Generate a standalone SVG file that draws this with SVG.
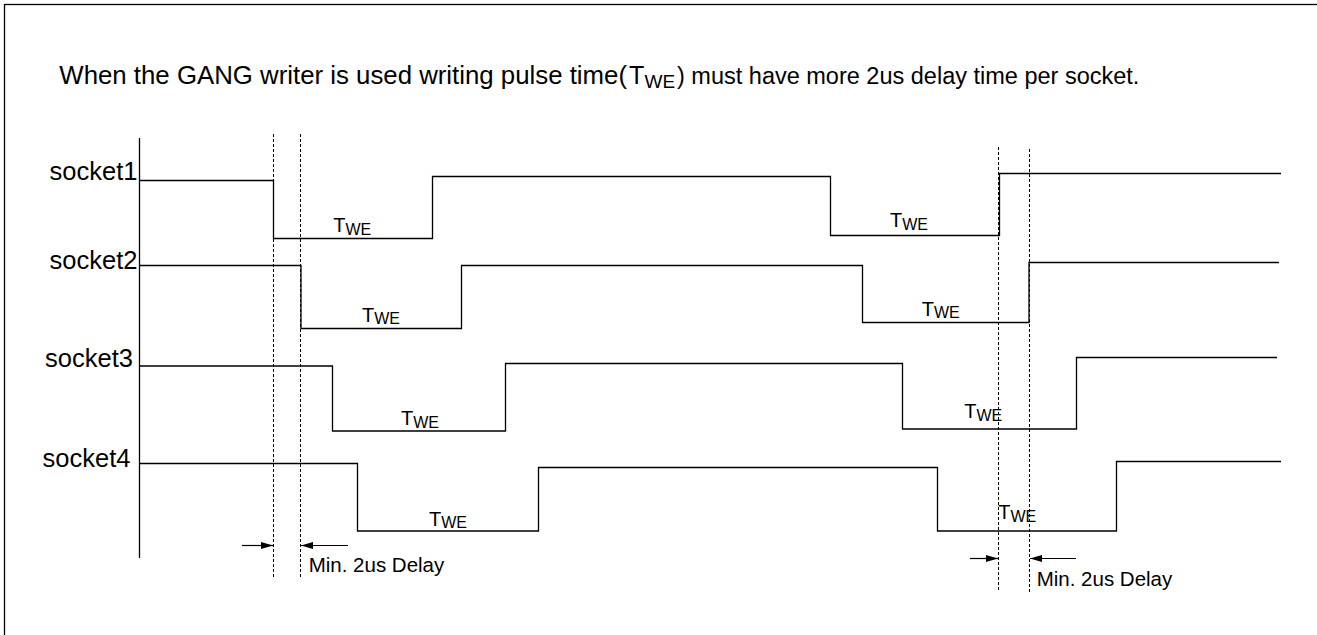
<svg xmlns="http://www.w3.org/2000/svg" width="1317" height="635" viewBox="0 0 1317 635">
<style>
text{font-family:"Liberation Sans",Arial,sans-serif;fill:#000}
.title{font-size:25px}
.lbl{font-size:25.5px;text-anchor:end}
.tw{font-size:20px}
.sub{font-size:16px}
.min{font-size:20.5px}
.sig{fill:none;stroke:#000;stroke-width:1.3}
.dash{fill:none;stroke:#000;stroke-width:1;stroke-dasharray:3,2}
.arr{fill:none;stroke:#000;stroke-width:1.2}
</style>
<defs>
<marker id="ah" markerUnits="userSpaceOnUse" markerWidth="13" markerHeight="8" refX="12" refY="3.5" orient="auto">
<path d="M0,0 L12,3.5 L0,7 z" fill="#000"/>
</marker>
</defs>
<rect width="1317" height="635" fill="#fff"/>
<rect x="4.5" y="4.5" width="1330" height="650" fill="none" stroke="#000" stroke-width="1.3"/>
<text class="title" x="59.3" y="84"><tspan font-size="25.8">When the GANG writer is used writing pulse time(</tspan><tspan x="629">T</tspan><tspan font-size="19" x="644.5" dy="4">WE</tspan><tspan font-size="23.5" x="677" dy="-4">) must have more 2us delay time per socket.</tspan></text>
<line x1="139.5" y1="138" x2="139.5" y2="558" class="sig"/>
<g id="socket1">
<text class="lbl" x="137.5" y="180">socket1</text>
<path class="sig" d="M139.5,180.5 H273.5 V238.5 H432.5 V176.5 H830.5 V235.5 H999.5 V173.5 H1281"/>
<text class="tw" x="333.3" y="232">T<tspan class="sub" dy="2.5">WE</tspan></text>
<text class="tw" x="890" y="227.3">T<tspan class="sub" dy="2.5">WE</tspan></text>
</g>
<g id="socket2">
<text class="lbl" x="137.5" y="269.3">socket2</text>
<path class="sig" d="M139.5,265.5 H301 V328.5 H461.5 V265.5 H862.5 V322.5 H1029 V262.5 H1279"/>
<text class="tw" x="362" y="321.5">T<tspan class="sub" dy="2.5">WE</tspan></text>
<text class="tw" x="921.7" y="315.7">T<tspan class="sub" dy="2.5">WE</tspan></text>
</g>
<g id="socket3">
<text class="lbl" x="133" y="366.7">socket3</text>
<path class="sig" d="M139.5,366 H332.5 V431 H505.5 V363.5 H902.5 V429 H1076.5 V357.5 H1277"/>
<text class="tw" x="401" y="425">T<tspan class="sub" dy="2.5">WE</tspan></text>
<text class="tw" x="964.3" y="417.5">T<tspan class="sub" dy="3">WE</tspan></text>
</g>
<g id="socket4">
<text class="lbl" x="130.5" y="466.7">socket4</text>
<path class="sig" d="M139.5,463.5 H357.5 V531 H538.5 V467.5 H937.5 V531 H1116.5 V461.5 H1281"/>
<text class="tw" x="429" y="525.7">T<tspan class="sub" dy="2.5">WE</tspan></text>
<text class="tw" x="998.3" y="518.5">T<tspan class="sub" dy="3.5">WE</tspan></text>
</g>
<g id="connectors">
<line class="dash" x1="273.5" y1="134" x2="273.5" y2="578"/>
<line class="dash" x1="300.5" y1="134" x2="300.5" y2="578"/>
<line class="dash" x1="998.5" y1="147" x2="998.5" y2="591"/>
<line class="dash" x1="1029.5" y1="149" x2="1029.5" y2="592"/>
<line class="arr" x1="242" y1="545.5" x2="273" y2="545.5" marker-end="url(#ah)"/>
<line class="arr" x1="348" y1="545.5" x2="301" y2="545.5" marker-end="url(#ah)"/>
<line class="arr" x1="970" y1="558.5" x2="998" y2="558.5" marker-end="url(#ah)"/>
<line class="arr" x1="1076" y1="558.5" x2="1030" y2="558.5" marker-end="url(#ah)"/>
</g>
<g id="delay-labels">
<text class="min" x="308.7" y="571.7">Min. 2us Delay</text>
<text class="min" x="1036.7" y="586">Min. 2us Delay</text>
</g>
</svg>
